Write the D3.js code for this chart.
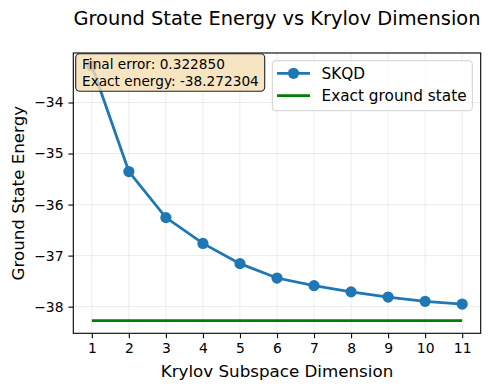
<!DOCTYPE html>
<html><head><meta charset="utf-8">
<script src="https://cdn.jsdelivr.net/npm/d3@7"></script>
<style>body{margin:0;background:#fff}svg{display:block;font-family:"DejaVu Sans",sans-serif}</style>
</head><body><svg id="c" width="490" height="390"></svg>
<script>
const dims = [1,2,3,4,5,6,7,8,9,10,11];
const energies = [-33.28,-35.353,-36.255,-36.761,-37.157,-37.439,-37.588,-37.710,-37.812,-37.896,-37.949454];
const exactEnergy = -38.272304;
const finalError = 0.322850;
const xTicks = [1,2,3,4,5,6,7,8,9,10,11];
const yTicks = [-38,-37,-36,-35,-34];
const titleText = "Ground State Energy vs Krylov Dimension";
const xLabel = "Krylov Subspace Dimension";
const yLabel = "Ground State Energy";
const legendLabels = ["SKQD","Exact ground state"];

const svg = d3.select("#c");
const L=73.3,R=480.7,T=53,B=333.3;
const x = d3.scaleLinear().domain([0.5,11.5]).range([L,R]);
const ymin = Math.min(exactEnergy, d3.min(energies)), ymax = d3.max(energies);
const pad = (ymax-ymin)*0.05;
const y = d3.scaleLinear().domain([ymin-pad, ymax+pad]).range([B,T]);

// grid
const g = svg.append("g");
g.selectAll(".gx").data(xTicks).enter().append("line")
 .attr("x1",d=>x(d)).attr("x2",d=>x(d)).attr("y1",T).attr("y2",B)
 .attr("stroke","#b0b0b0").attr("stroke-opacity",0.3).attr("stroke-width",0.8);
g.selectAll(".gy").data(yTicks).enter().append("line")
 .attr("y1",d=>y(d)).attr("y2",d=>y(d)).attr("x1",L).attr("x2",R)
 .attr("stroke","#b0b0b0").attr("stroke-opacity",0.3).attr("stroke-width",0.8);

// exact line
svg.append("line").attr("x1",x(dims[0])).attr("x2",x(dims[dims.length-1]))
 .attr("y1",y(exactEnergy)).attr("y2",y(exactEnergy))
 .attr("stroke","#008000").attr("stroke-width",2.8);

// SKQD
svg.append("path").datum(dims.map((d,i)=>[d,energies[i]]))
 .attr("d",d3.line().x(d=>x(d[0])).y(d=>y(d[1])))
 .attr("fill","none").attr("stroke","#1f77b4").attr("stroke-width",2.8);
svg.selectAll(".pt").data(dims).enter().append("circle")
 .attr("cx",d=>x(d)).attr("cy",(d,i)=>y(energies[i])).attr("r",5.6).attr("fill","#1f77b4");

// axes
const xa = svg.append("g").attr("transform",`translate(0,${B})`)
 .call(d3.axisBottom(x).tickValues(xTicks).tickSize(4.9).tickPadding(4.9).tickFormat(d3.format("d")));
const ya = svg.append("g").attr("transform",`translate(${L},0)`)
 .call(d3.axisLeft(y).tickValues(yTicks).tickSize(4.9).tickPadding(4.9).tickFormat(d=>"\u2212"+Math.abs(d)));
[xa,ya].forEach(a=>{a.select(".domain").remove();a.selectAll("text").attr("font-size","13.9px").attr("fill","#000").attr("font-family","DejaVu Sans");a.selectAll("line").attr("stroke","#000").attr("stroke-width",1.1);});
svg.append("rect").attr("x",L).attr("y",T).attr("width",R-L).attr("height",B-T)
 .attr("fill","none").attr("stroke","#000").attr("stroke-width",1.1);

// labels
svg.append("text").attr("x",(L+R)/2).attr("y",25).attr("text-anchor","middle")
 .attr("font-size","19.4px").text(titleText);
svg.append("text").attr("x",(L+R)/2).attr("y",377).attr("text-anchor","middle")
 .attr("font-size","16.7px").text(xLabel);
svg.append("text").attr("transform",`translate(24,${(T+B)/2}) rotate(-90)`).attr("text-anchor","middle")
 .attr("font-size","16.7px").text(yLabel);

// text box
svg.append("rect").attr("x",75.7).attr("y",53.7).attr("width",189).attr("height",37.6)
 .attr("rx",4).attr("fill","#f5deb3").attr("fill-opacity",0.8).attr("stroke","#222").attr("stroke-width",1.1);
const t1 = svg.append("text").attr("x",82).attr("y",69.3).attr("font-size","14px").text("Final error: "+finalError.toFixed(6));
const t2 = svg.append("text").attr("x",82).attr("y",86.3).attr("font-size","14px").text("Exact energy: "+exactEnergy.toFixed(6));
const w = t2.node().getComputedTextLength();
const fs = Math.min(15.3, 14*177/w);
t1.attr("font-size",fs+"px"); t2.attr("font-size",fs+"px");

// legend
svg.append("rect").attr("x",272.3).attr("y",60.7).attr("width",200).attr("height",50)
 .attr("rx",3).attr("fill","#fff").attr("fill-opacity",0.8).attr("stroke","#d0d0d0").attr("stroke-width",1);
svg.append("line").attr("x1",277).attr("x2",310).attr("y1",73.3).attr("y2",73.3).attr("stroke","#1f77b4").attr("stroke-width",2.8);
svg.append("circle").attr("cx",293.5).attr("cy",73.3).attr("r",5.6).attr("fill","#1f77b4");
svg.append("line").attr("x1",277).attr("x2",310).attr("y1",95.7).attr("y2",95.7).attr("stroke","#008000").attr("stroke-width",2.8);
svg.append("text").attr("x",321.5).attr("y",78.8).attr("font-size","15.3px").text(legendLabels[0]);
svg.append("text").attr("x",321.5).attr("y",101.2).attr("font-size","15.3px").text(legendLabels[1]);
</script></body></html>
